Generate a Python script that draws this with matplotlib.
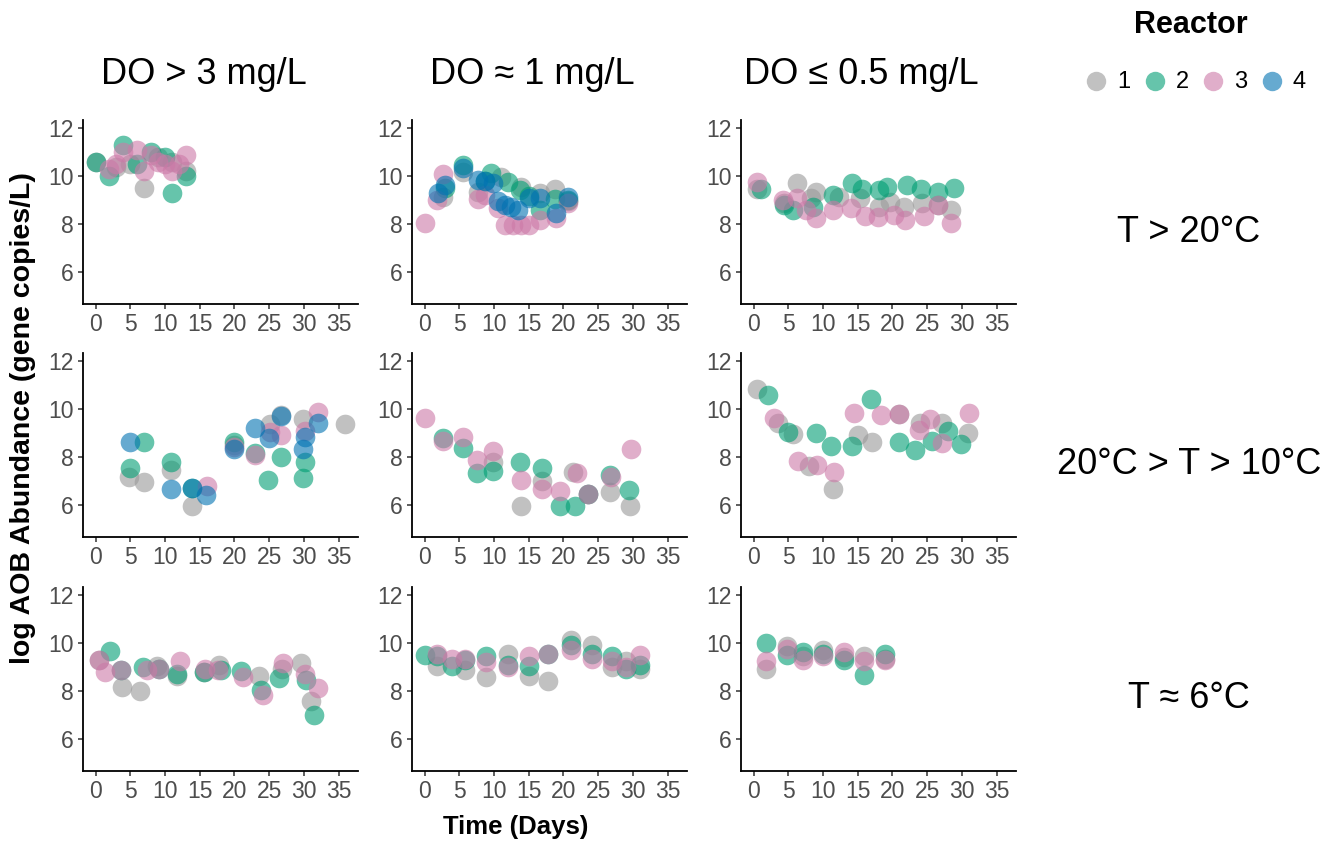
import matplotlib
matplotlib.use("Agg")
import matplotlib.pyplot as plt

plt.rcParams['font.family'] = ['Liberation Sans', 'DejaVu Sans']

# reactor colours (grey, green, pink, blue)
reactor_names = ["1", "2", "3", "4"]
reactor_colors = ["#999999", "#009E73", "#CC79A7", "#0072B2"]

do_labels = ["DO > 3 mg/L", "DO \u2248 1 mg/L", "DO \u2264 0.5 mg/L"]
temp_labels = ["T > 20\u00b0C", "20\u00b0C > T > 10\u00b0C", "T \u2248 6\u00b0C"]

x_ticks = [0, 5, 10, 15, 20, 25, 30, 35]
y_ticks = [6, 8, 10, 12]

# ---- T > 20C ----
hot_high_r1_t = [0, 3, 5, 7, 9, 11, 13]
hot_high_r1_y = [10.6, 10.4, 10.5, 9.5, 10.8, 10.6, 10.2]
hot_high_r2_t = [0, 2, 4, 6, 8, 10, 11, 13]
hot_high_r2_y = [10.6, 10.0, 11.3, 10.5, 11.0, 10.8, 9.3, 10.0]
hot_high_r3_t = [2, 3, 4, 6, 7, 8, 9, 10, 11, 12, 13]
hot_high_r3_y = [10.3, 10.5, 11.0, 11.1, 10.2, 10.9, 10.6, 10.5, 10.2, 10.5, 10.9]

hot_mid_r1_t = [2.7, 5.5, 7.7, 11.0, 13.9, 16.6, 18.8, 20.7]
hot_mid_r1_y = [9.14, 10.18, 9.35, 9.97, 9.55, 9.3, 9.48, 8.95]
hot_mid_r2_t = [2.9, 5.5, 8.7, 9.6, 12.0, 13.8, 15.0, 16.6, 18.8, 20.7]
hot_mid_r2_y = [9.5, 10.46, 9.8, 10.14, 9.76, 9.4, 9.16, 8.58, 9.03, 9.0]
hot_mid_r3_t = [0, 1.8, 2.7, 7.7, 8.7, 10.6, 11.6, 12.7, 13.9, 15.0, 16.6, 18.9, 20.7]
hot_mid_r3_y = [8.02, 9.0, 10.1, 9.03, 9.2, 8.65, 7.95, 7.95, 7.95, 7.95, 8.16, 8.23, 8.86]
hot_mid_r4_t = [1.9, 2.9, 5.5, 7.7, 8.7, 9.8, 10.6, 11.6, 12.5, 13.5, 15.0, 16.6, 18.9, 20.7]
hot_mid_r4_y = [9.3, 9.62, 10.36, 9.83, 9.8, 9.7, 8.97, 8.79, 8.72, 8.58, 9.07, 9.1, 8.47, 9.14]

hot_low_r1_t = [0.5, 4.4, 6.3, 8.3, 9.0, 12.3, 15.4, 18.0, 19.6, 21.6, 24.2, 26.5, 28.5]
hot_low_r1_y = [9.46, 8.88, 9.73, 9.07, 9.35, 9.14, 9.07, 8.72, 8.93, 8.72, 8.86, 8.79, 8.58]
hot_low_r2_t = [1.1, 4.4, 5.7, 8.5, 11.4, 14.2, 15.6, 18.0, 19.2, 22.1, 24.1, 26.6, 28.8]
hot_low_r2_y = [9.48, 8.79, 8.6, 8.72, 9.23, 9.72, 9.48, 9.41, 9.55, 9.62, 9.48, 9.35, 9.51]
hot_low_r3_t = [0.5, 4.2, 6.3, 7.5, 9.0, 11.4, 14.0, 16.1, 17.9, 20.2, 21.8, 24.5, 26.5, 28.4]
hot_low_r3_y = [9.76, 9.02, 9.07, 8.58, 8.23, 8.6, 8.65, 8.33, 8.3, 8.37, 8.16, 8.33, 8.79, 8.02]

# ---- 20C > T > 10C ----
warm_high_r1_t = [4.8, 7.0, 10.8, 13.9, 20.0, 25.1, 26.7, 29.9, 35.9]
warm_high_r1_y = [7.18, 6.94, 7.46, 5.93, 8.5, 9.37, 9.75, 9.58, 9.37]
warm_high_r2_t = [4.9, 7.0, 10.8, 13.9, 20.0, 23.0, 24.9, 26.7, 29.9, 30.2]
warm_high_r2_y = [7.54, 8.64, 7.78, 6.71, 8.61, 8.15, 7.04, 8.01, 7.13, 7.78]
warm_high_r3_t = [16.0, 20.0, 22.9, 25.1, 26.7, 30.1, 32.0]
warm_high_r3_y = [6.78, 8.4, 8.08, 9.03, 8.93, 9.07, 9.89]
warm_high_r4_t = [4.9, 10.8, 13.9, 15.9, 20.0, 22.9, 25.0, 26.7, 30.1, 29.9, 32.0]
warm_high_r4_y = [8.64, 6.67, 6.71, 6.39, 8.33, 9.21, 8.78, 9.72, 8.82, 8.33, 9.4]

warm_mid_r1_t = [9.8, 13.9, 16.9, 21.4, 23.6, 26.7, 29.6]
warm_mid_r1_y = [7.78, 5.94, 7.01, 7.36, 6.43, 6.53, 5.94]
warm_mid_r2_t = [2.6, 5.5, 7.5, 9.9, 13.8, 16.9, 19.5, 21.7, 23.6, 26.7, 29.5]
warm_mid_r2_y = [8.79, 8.38, 7.32, 7.40, 7.78, 7.54, 5.94, 5.94, 6.43, 7.25, 6.6]
warm_mid_r3_t = [0.1, 2.7, 5.5, 7.5, 9.8, 13.9, 16.9, 19.5, 21.9, 23.6, 26.8, 29.7]
warm_mid_r3_y = [9.63, 8.68, 8.85, 7.88, 8.26, 7.04, 6.64, 6.57, 7.32, 6.43, 7.15, 8.33]

warm_low_r1_t = [0.5, 3.5, 5.7, 8.0, 11.5, 15.0, 17.0, 20.9, 24.0, 27.1, 30.9]
warm_low_r1_y = [10.86, 9.42, 8.96, 7.64, 6.64, 8.93, 8.64, 9.79, 9.44, 9.42, 8.99]
warm_low_r2_t = [2.1, 4.9, 9.0, 11.1, 14.2, 16.9, 20.9, 23.2, 25.7, 28.0, 29.9]
warm_low_r2_y = [10.6, 9.03, 9.0, 8.47, 8.47, 10.44, 8.61, 8.29, 8.65, 9.07, 8.54]
warm_low_r3_t = [2.9, 6.4, 9.2, 11.6, 14.5, 18.3, 20.9, 23.8, 25.4, 27.1, 31.0]
warm_low_r3_y = [9.61, 7.81, 7.68, 7.36, 9.86, 9.75, 9.79, 9.13, 9.58, 8.58, 9.86]

# ---- T ~ 6C ----
cold_high_r1_t = [0.5, 3.8, 6.4, 8.8, 11.7, 15.6, 17.8, 23.5, 26.8, 29.6, 31.0]
cold_high_r1_y = [9.31, 8.16, 7.99, 9.03, 8.64, 8.78, 9.1, 8.61, 8.92, 9.17, 7.58]
cold_high_r2_t = [2.1, 3.6, 6.9, 9.2, 11.7, 15.6, 18.1, 21.0, 23.9, 26.4, 30.3, 31.4]
cold_high_r2_y = [9.68, 8.89, 9.0, 8.92, 8.7, 8.78, 8.89, 8.82, 8.02, 8.55, 8.45, 6.98]
cold_high_r3_t = [0.5, 1.4, 3.6, 7.4, 9.2, 12.2, 15.8, 17.7, 21.3, 24.1, 27.0, 30.2, 32.1]
cold_high_r3_y = [9.31, 8.78, 8.89, 8.86, 8.92, 9.27, 8.92, 8.89, 8.59, 7.85, 9.17, 8.73, 8.13]

cold_mid_r1_t = [1.8, 5.8, 8.8, 12.0, 15.1, 17.8, 21.1, 24.1, 27.0, 29.0, 31.0]
cold_mid_r1_y = [9.06, 8.86, 8.59, 9.56, 8.62, 8.43, 10.14, 9.93, 9.0, 9.24, 8.92]
cold_mid_r2_t = [0, 1.8, 3.9, 5.8, 8.8, 12.0, 15.1, 17.8, 21.1, 24.1, 27.0, 29.0, 31.0]
cold_mid_r2_y = [9.49, 9.45, 9.06, 9.3, 9.47, 9.1, 9.06, 9.56, 9.93, 9.56, 9.45, 8.92, 9.1]
cold_mid_r3_t = [1.8, 3.9, 5.8, 8.8, 12.0, 15.1, 17.8, 21.1, 24.1, 27.0, 29.0, 31.0]
cold_mid_r3_y = [9.56, 9.34, 9.34, 9.2, 9.0, 9.47, 9.56, 9.72, 9.34, 9.24, 9.0, 9.52]

cold_low_r1_t = [1.8, 4.8, 7.1, 10.0, 13.0, 15.9, 18.9]
cold_low_r1_y = [8.92, 9.89, 9.45, 9.7, 9.4, 9.47, 9.35]
cold_low_r2_t = [1.8, 4.8, 7.1, 10.0, 13.0, 15.9, 18.9]
cold_low_r2_y = [10.0, 9.52, 9.65, 9.55, 9.31, 8.68, 9.56]
cold_low_r3_t = [1.8, 4.8, 7.1, 10.0, 13.0, 15.9, 18.9]
cold_low_r3_y = [9.27, 9.75, 9.31, 9.47, 9.61, 9.24, 9.31]

# panels[row][col] -> list of (reactor index, times, values)
panels = [
    [
        [(0, hot_high_r1_t, hot_high_r1_y), (1, hot_high_r2_t, hot_high_r2_y),
         (2, hot_high_r3_t, hot_high_r3_y)],
        [(0, hot_mid_r1_t, hot_mid_r1_y), (1, hot_mid_r2_t, hot_mid_r2_y),
         (2, hot_mid_r3_t, hot_mid_r3_y), (3, hot_mid_r4_t, hot_mid_r4_y)],
        [(0, hot_low_r1_t, hot_low_r1_y), (1, hot_low_r2_t, hot_low_r2_y),
         (2, hot_low_r3_t, hot_low_r3_y)],
    ],
    [
        [(0, warm_high_r1_t, warm_high_r1_y), (1, warm_high_r2_t, warm_high_r2_y),
         (2, warm_high_r3_t, warm_high_r3_y), (3, warm_high_r4_t, warm_high_r4_y)],
        [(0, warm_mid_r1_t, warm_mid_r1_y), (1, warm_mid_r2_t, warm_mid_r2_y),
         (2, warm_mid_r3_t, warm_mid_r3_y)],
        [(0, warm_low_r1_t, warm_low_r1_y), (1, warm_low_r2_t, warm_low_r2_y),
         (2, warm_low_r3_t, warm_low_r3_y)],
    ],
    [
        [(0, cold_high_r1_t, cold_high_r1_y), (1, cold_high_r2_t, cold_high_r2_y),
         (2, cold_high_r3_t, cold_high_r3_y)],
        [(0, cold_mid_r1_t, cold_mid_r1_y), (1, cold_mid_r2_t, cold_mid_r2_y),
         (2, cold_mid_r3_t, cold_mid_r3_y)],
        [(0, cold_low_r1_t, cold_low_r1_y), (1, cold_low_r2_t, cold_low_r2_y),
         (2, cold_low_r3_t, cold_low_r3_y)],
    ],
]

W, H = 1331, 841
fig = plt.figure(figsize=(W / 100, H / 100), dpi=100)

col_left = [83, 412, 741]
row_top = [120, 353, 587]
ax_w, ax_h = 275, 184

for r in range(3):
    for c in range(3):
        ax = fig.add_axes([col_left[c] / W, 1 - (row_top[r] + ax_h) / H, ax_w / W, ax_h / H])
        for k, t, y in panels[r][c]:
            ax.scatter(t, y, s=200, color=reactor_colors[k], alpha=0.6, linewidths=0, zorder=2)
        ax.set_xlim(-1.8, 37.8)
        ax.set_ylim(4.65, 12.35)
        ax.set_xticks(x_ticks)
        ax.set_yticks(y_ticks)
        for side in ["top", "right"]:
            ax.spines[side].set_visible(False)
        for side in ["left", "bottom"]:
            ax.spines[side].set_linewidth(1.3)
            ax.spines[side].set_color("black")
        ax.tick_params(length=3.5, width=1.1, color="#333333", labelsize=16.5,
                       labelcolor="#4D4D4D", pad=3)

# facet strips
for c in range(3):
    fig.text((col_left[c] + ax_w / 2 - 17) / W, 1 - 75 / H, do_labels[c],
             fontsize=26, ha="center", va="center")
for r in range(3):
    fig.text(1189 / W, 1 - (row_top[r] + ax_h / 2 + 20) / H, temp_labels[r],
             fontsize=26, ha="center", va="center")

fig.text(23 / W, 1 - 418 / H, "log AOB Abundance (gene copies/L)", rotation=90,
         fontsize=20.5, fontweight="bold", ha="center", va="center")
fig.text(516 / W, 1 - 827 / H, "Time (Days)", fontsize=18.5, fontweight="bold",
         ha="center", va="center")

# legend drawn in pixel space on a blank overlay
lg = fig.add_axes([0, 0, 1, 1], facecolor="none")
lg.set_xlim(0, W)
lg.set_ylim(H, 0)
lg.axis("off")
lg.text(1191, 25, "Reactor", fontsize=22, fontweight="bold", ha="center", va="center")
for i, (name, col) in enumerate(zip(reactor_names, reactor_colors)):
    x0 = 1096 + 58.5 * i
    lg.plot([x0], [81], marker="o", markersize=14, markeredgewidth=0, color=col,
            alpha=0.6, linestyle="")
    lg.text(x0 + 21, 82, name, fontsize=17, ha="left", va="center")

fig.savefig("out.png", dpi=100)
